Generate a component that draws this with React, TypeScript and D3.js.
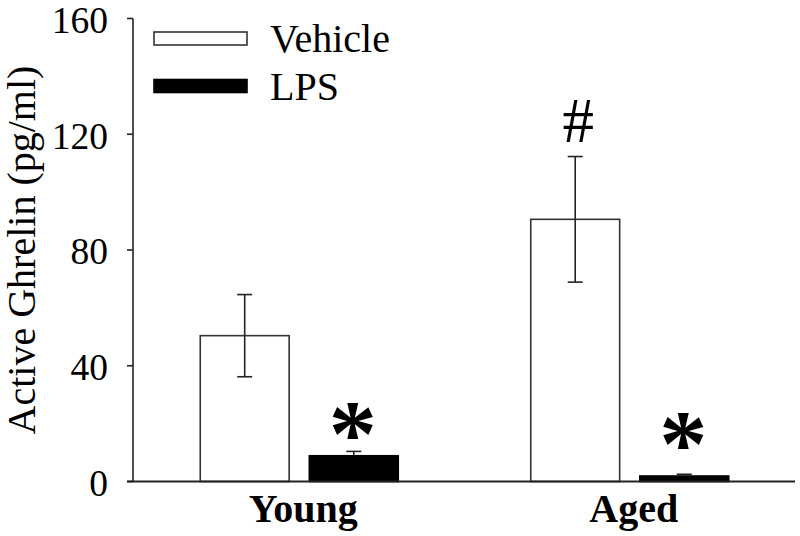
import React from "react";
import * as d3 from "d3";

const groups = ["Young", "Aged"];
const series = ["Vehicle", "LPS"];
const vehicleMeans = [50.4, 90.6];
const vehicleErrs = [14.2, 21.7];
const lpsMeans = [8.9, 1.9];
const lpsErrs = [1.5, 0.6];
const yTicks = [0, 40, 80, 120, 160];
const yLabel = "Active Ghrelin (pg/ml)";
// significance marks: symbol and the value (in pg/ml) at which the glyph's centre sits
const lpsMarks = ["*", "*"];
const lpsMarkAt = [20.6, 17.0];
const vehicleMarks = ["", "#"];
const vehicleMarkAt = [0, 124.5];

const W = 800;
const H = 536;
const FONT = "'Liberation Serif', 'Times New Roman', serif";

export default function App() {
  const y = d3.scaleLinear().domain([0, 160]).range([481.5, 18.5]);
  const x0 = d3.scaleBand<string>().domain(groups).range([134, 795]).padding(0);
  const x1 = d3.scaleBand<string>().domain(series).range([-99, 99]).paddingInner(0.185);
  const axisX = 133;

  const data = groups.map((g, i) => ({
    g,
    bars: [
      { s: "Vehicle", v: vehicleMeans[i], e: vehicleErrs[i], mark: vehicleMarks[i], at: vehicleMarkAt[i] },
      { s: "LPS", v: lpsMeans[i], e: lpsErrs[i], mark: lpsMarks[i], at: lpsMarkAt[i] },
    ],
  }));

  return (
    <svg
      width={W}
      height={H}
      style={{ position: "absolute", left: 0, top: 0, background: "#fff" }}
      fontFamily={FONT}
    >
      <rect x={0} y={0} width={W} height={H} fill="#fff" />
      {data.map((d) => {
        const cx = (x0(d.g) as number) + x0.bandwidth() / 2;
        return (
          <g key={d.g}>
            {d.bars.map((b) => {
              const bx = cx + (x1(b.s) as number);
              const bw = x1.bandwidth();
              const mid = bx + bw / 2;
              const isV = b.s === "Vehicle";
              return (
                <g key={b.s}>
                  <rect
                    x={bx}
                    y={y(b.v)}
                    width={bw}
                    height={y(0) - y(b.v)}
                    fill={isV ? "#fff" : "#000"}
                    stroke={isV ? "#333" : "#000"}
                    strokeWidth={1.6}
                  />
                  <line x1={mid} x2={mid} y1={y(b.v + b.e)} y2={isV ? y(b.v - b.e) : y(b.v)} stroke="#222" strokeWidth={1.6} />
                  <line x1={mid - 7.5} x2={mid + 7.5} y1={y(b.v + b.e)} y2={y(b.v + b.e)} stroke="#222" strokeWidth={1.6} />
                  {isV && (
                    <line x1={mid - 7.5} x2={mid + 7.5} y1={y(b.v - b.e)} y2={y(b.v - b.e)} stroke="#222" strokeWidth={1.6} />
                  )}
                  {b.mark === "*" && (
                    <text
                      x={mid - 1}
                      y={y(b.at) + 44}
                      textAnchor="middle"
                      fontSize={96}
                      fontWeight="bold"
                      fill="#000"
                    >
                      *
                    </text>
                  )}
                  {b.mark === "#" && (
                    <text x={mid + 3} y={y(b.at) + 21} textAnchor="middle" fontSize={63} fill="#000">
                      #
                    </text>
                  )}
                </g>
              );
            })}
            <text x={cx + 4} y={522} textAnchor="middle" fontSize={40} fontWeight="bold" fill="#000">
              {d.g}
            </text>
          </g>
        );
      })}
      <line x1={axisX} x2={axisX} y1={y(160)} y2={y(0)} stroke="#222" strokeWidth={1.6} />
      <line x1={127} x2={795} y1={y(0)} y2={y(0)} stroke="#222" strokeWidth={1.8} />
      {yTicks.map((t) => (
        <g key={t}>
          <line x1={127} x2={axisX} y1={y(t)} y2={y(t)} stroke="#222" strokeWidth={1.6} />
          <text x={108} y={y(t)} dy="0.38em" textAnchor="end" fontSize={37.5} fill="#000">
            {t}
          </text>
        </g>
      ))}
      <text
        transform={`translate(35, 250) rotate(-90)`}
        textAnchor="middle"
        fontSize={40}
        fill="#000"
      >
        {yLabel}
      </text>
      {series.map((s, i) => (
        <g key={s}>
          <rect
            x={154}
            y={32 + i * 47.5}
            width={93}
            height={13}
            fill={s === "Vehicle" ? "#fff" : "#000"}
            stroke={s === "Vehicle" ? "#333" : "#000"}
            strokeWidth={1.6}
          />
          <text x={270} y={52 + i * 48} fontSize={40} fill="#000">
            {s}
          </text>
        </g>
      ))}
    </svg>
  );
}
